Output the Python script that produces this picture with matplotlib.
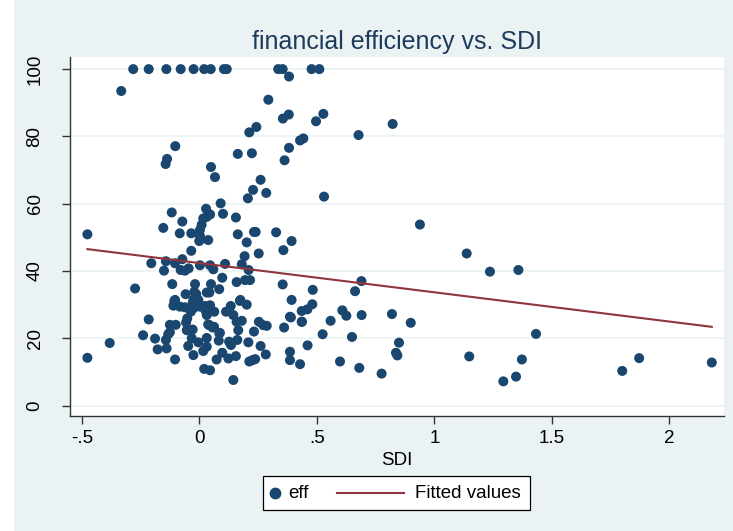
import numpy as np
import matplotlib
matplotlib.use("Agg")
import matplotlib.pyplot as plt
from matplotlib.lines import Line2D
from matplotlib.patches import Rectangle

plt.rcParams['font.family'] = ['Liberation Sans', 'DejaVu Sans']

sdi = [
    -0.282, -0.216, -0.141, -0.080, -0.025, 0.020, 0.048, 0.104, 0.116, 0.335, 0.354, 0.477, 0.510,
    -0.333, 0.293, 0.381, 0.355, 0.380, 0.212, 0.242, -0.103, -0.138, -0.144, 0.163, 0.223,
    0.428, 0.442, 0.381, 0.362, 0.049, 0.066, 0.260, 0.228, 0.284, 0.206, 0.090, 0.028,
    -0.118, 0.045, 0.031, 0.100, 0.155, -0.073, 0.009, -0.154,
    0.496, 0.527, 0.677, 0.822, 0.530, 0.938, 0.392, 1.137, 1.236, 1.357, 0.689, 0.662,
    0.482, 0.392, 0.480, 0.459, 0.435, 0.389, 0.435, 0.558, 0.608, 0.625, 0.690, 0.819,
    0.899, 0.524, 0.649, 0.385, 0.385, 0.428, 0.460, 0.598, 0.680, 0.775, 0.849, 0.836,
    0.842, 1.148, 1.293, 1.347, 1.372, 1.432, 1.799, 1.871, 2.180,
    -0.477, -0.477,
    -0.084, -0.035, 0.002, 0.016, 0.002, -0.001, 0.037, -0.035, 0.163, 0.201, 0.232, 0.239,
    0.326, 0.357, 0.252, 0.192, 0.180, 0.209, 0.109, 0.045, 0.059, 0.002, -0.046, -0.062,
    -0.080, -0.073, -0.104, -0.143, -0.151, -0.205, -0.274, -0.116, -0.019, 0.097, 0.158,
    0.194, 0.215, 0.354, -0.022, -0.059, -0.014, 0.031, 0.042, 0.084, 0.174, -0.104,
    -0.026, 0.049,
    -0.382, -0.240, -0.216, -0.189, -0.178, -0.140, -0.143, -0.133, -0.126, -0.126, -0.101,
    -0.104, -0.107, -0.111, -0.083, -0.062, -0.029, -0.026, -0.037, -0.052, -0.057, -0.054,
    -0.029, -0.033, -0.048, -0.026, -0.005, 0.031, 0.031, 0.016, 0.020, 0.045, -0.005,
    0.002, 0.023, 0.045, 0.063, 0.031, 0.026, 0.037, 0.062, 0.087, 0.082, 0.073, 0.097,
    0.123, 0.126, 0.134, 0.144, 0.155, 0.161, 0.165, 0.158, 0.180, 0.144, 0.113, 0.133,
    0.172, 0.201, 0.208, 0.212, 0.226, 0.237, 0.260, 0.282, 0.232, 0.253, 0.271, 0.286,
    0.360, 0.385, 0.436, 0.042, 0.056, 0.084,
]
eff = [
    100, 100, 100, 100, 100, 100, 100, 100, 100, 100, 100, 100, 100,
    93.5, 90.9, 97.8, 85.3, 86.5, 81.2, 82.8, 77.1, 73.3, 71.8, 74.8, 75.0,
    78.8, 79.4, 76.6, 72.9, 70.9, 67.9, 67.1, 64.1, 63.2, 61.6, 60.1, 58.5,
    57.4, 56.8, 56.1, 57.0, 55.9, 54.7, 53.7, 52.8,
    84.5, 86.7, 80.4, 83.7, 62.1, 53.8, 48.9, 45.2, 39.8, 40.3, 37.0, 34.0,
    34.4, 31.4, 30.1, 28.6, 28.1, 26.2, 24.9, 25.2, 28.3, 26.7, 26.9, 27.2,
    24.6, 21.2, 20.4, 16.0, 13.5, 12.3, 17.9, 13.1, 11.2, 9.5, 18.7, 15.7,
    14.9, 14.6, 7.2, 8.6, 13.7, 21.3, 10.3, 14.1, 12.8,
    50.9, 14.2,
    51.2, 51.2, 52.2, 55.6, 50.4, 48.9, 49.2, 46.0, 50.9, 48.5, 51.6, 51.6,
    51.5, 46.2, 45.2, 44.4, 42.0, 40.3, 42.1, 41.7, 40.5, 41.7, 40.8, 40.1,
    40.3, 43.5, 42.3, 42.9, 40.1, 42.3, 34.8, 36.1, 36.1, 38.0, 36.7,
    37.3, 37.3, 36.0, 33.8, 33.1, 33.1, 33.6, 33.6, 34.6, 31.4, 31.4,
    31.4, 36.1,
    18.6, 20.9, 25.6, 19.9, 16.7, 17.0, 19.5, 21.2, 21.8, 24.0, 24.0,
    13.7, 31.1, 29.7, 29.4, 29.2, 30.5, 28.9, 27.9, 25.9, 24.7, 22.4,
    22.6, 20.0, 17.7, 15.0, 18.8, 20.1, 17.5, 16.2, 10.9, 10.5, 31.4,
    29.4, 29.6, 29.8, 27.9, 26.9, 28.2, 24.1, 23.4, 21.6, 19.3, 13.7, 15.7,
    14.0, 19.0, 18.0, 7.6, 14.7, 19.5, 22.4, 24.9, 25.2, 26.9, 27.9, 29.6,
    31.1, 30.0, 18.8, 13.1, 13.5, 13.8, 17.7, 15.2, 22.0, 24.9, 23.9, 23.7,
    23.2, 26.4, 24.9, 23.9, 23.2, 21.5,
]

# fitted values (linear fit) at min / max SDI
fit_x = [-0.477, 2.180]
fit_y = [46.5, 23.4]

x_ticks = [-0.5, 0, 0.5, 1, 1.5, 2]
x_tick_labels = ['-.5', '0', '.5', '1', '1.5', '2']
y_ticks = [0, 20, 40, 60, 80, 100]
legend_labels = ['eff', 'Fitted values']

bg = '#eaf2f3'
navy = '#1a476f'
maroon = '#90353b'

W, H = 733, 531
fig = plt.figure(figsize=(W / 100, H / 100), dpi=100, facecolor=bg)
# thin white strip on the left edge
fig.patches.append(Rectangle((0, 0), 14 / W, 1, transform=fig.transFigure,
                             facecolor='white', edgecolor='none', zorder=0))

ax = fig.add_axes([70 / W, 1 - 416 / H, 654 / W, 359 / H])
ax.set_facecolor('white')

ax.scatter(sdi, eff, s=52, color=navy, edgecolors='none', zorder=3)
ax.plot(fit_x, fit_y, color=maroon, linewidth=1.5, zorder=4)

ax.set_xlim(-0.551, 2.232)
ax.set_ylim(-3.1, 103.6)
ax.set_xticks(x_ticks)
ax.set_xticklabels(x_tick_labels)
ax.set_yticks(y_ticks)
ax.set_yticklabels([str(v) for v in y_ticks], rotation=90, va='center')

ax.grid(True, axis='y', color=bg, linewidth=1.2, zorder=0)
ax.set_axisbelow(True)
for side in ['top', 'right']:
    ax.spines[side].set_visible(False)
for side in ['left', 'bottom']:
    ax.spines[side].set_color('#333333')
    ax.spines[side].set_linewidth(1.0)
ax.tick_params(axis='both', length=6, width=1, color='#333333', labelsize=13.5,
               labelcolor='black')
ax.tick_params(axis='x', pad=4)
ax.tick_params(axis='y', pad=13)

ax.set_xlabel('SDI', fontsize=13.5, labelpad=4)
ax.set_title('financial efficiency vs. SDI', fontsize=18, color='#1f3b5c', pad=6)

# legend box drawn by hand so the marker key stays compact (Stata style)
def fx(px):
    return px / W

def fy(py):
    return 1 - py / H

fig.patches.append(Rectangle((fx(263), fy(510)), fx(530) - fx(263), fy(476) - fy(510),
                             transform=fig.transFigure, facecolor='white',
                             edgecolor='black', linewidth=0.9, zorder=5))
fig.add_artist(Line2D([fx(275)], [fy(493)], marker='o', markersize=7.5, color=navy,
                      linestyle='none', transform=fig.transFigure, zorder=6))
fig.text(fx(288), fy(493), legend_labels[0], fontsize=13.5, va='center', ha='left', zorder=6)
fig.add_artist(Line2D([fx(337), fx(404)], [fy(493), fy(493)], color=maroon, linewidth=1.5,
                      transform=fig.transFigure, zorder=6))
fig.text(fx(415), fy(493), legend_labels[1], fontsize=13.5, va='center', ha='left', zorder=6)

fig.savefig('out.png', dpi=100, facecolor=bg)
